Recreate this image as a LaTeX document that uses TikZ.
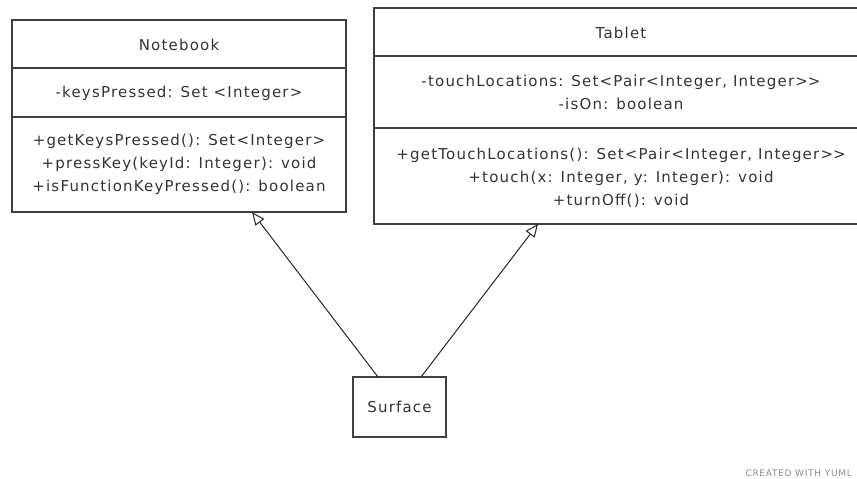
\documentclass[tikz,border=0pt]{standalone}
\usepackage{fontspec}
\setmainfont{DejaVu Sans}[Ligatures=ResetAll,LetterSpace=8]
\usetikzlibrary{arrows.meta}
\newcommand{\gtgt}{>\kern0pt>}
\begin{document}
\begin{tikzpicture}[x=1pt,y=-1pt,
  box/.style={draw=black!75,line width=1.2pt},
  txt/.style={font=\fontsize{15}{23}\selectfont,text=black!80,inner sep=0pt,align=center},
  inherit/.style={draw=black!85,line width=1pt,-{Triangle[open,length=13pt,width=11pt,line width=1pt]}}]
\useasboundingbox (0,0) rectangle (857,479);
\clip (0,0) rectangle (857,479);
% Notebook class
\draw[box] (12,20) rectangle (346,212);
\draw[box] (12,68) -- (346,68);
\draw[box] (12,117) -- (346,117);
\node[txt] (nbname) at (179,45) {Notebook};
\node[txt] (nbattr) at (179,93) {-keysPressed: Set <Integer>};
\node[txt] (nbops) at (179,164) {+getKeysPressed(): Set<Integer>\\+pressKey(keyId: Integer): void\\+isFunctionKeyPressed(): boolean};
\coordinate (nbbot) at (252,212);
% Tablet class (its right side runs past the page edge)
\draw[box] (374,8) rectangle (869,224);
\draw[box] (374,56) -- (869,56);
\draw[box] (374,128) -- (869,128);
\node[txt] (tbname) at (621,33) {Tablet};
\node[txt] (tbattr) at (621,92) {-touchLocations: Set<Pair<Integer, Integer\gtgt\\-isOn: boolean};
\node[txt] (tbops) at (621,178) {+getTouchLocations(): Set<Pair<Integer, Integer\gtgt\\+touch(x: Integer, y: Integer): void\\+turnOff(): void};
\coordinate (tbbot) at (538,224);
% Surface
\node[box,minimum width=93pt,minimum height=60pt,inner sep=0pt] (surf) at (399.5,407) {};
\node[txt] (surftxt) at (surf.center) {Surface};
\coordinate (s1) at (378,377);
\coordinate (s2) at (421,377);
\draw[inherit] (s1) -- (nbbot);
\draw[inherit] (s2) -- (tbbot);
% footer
\node[anchor=east,inner sep=0pt,text=black!45,font=\fontsize{9}{10}\selectfont] (credit) at (852,473) {CREATED WITH YUML};
\end{tikzpicture}
\end{document}
